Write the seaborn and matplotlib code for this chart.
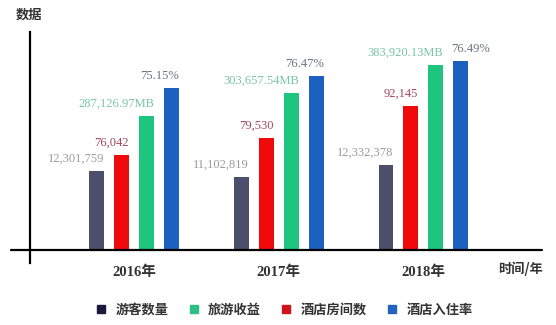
import matplotlib
matplotlib.use("Agg")
import matplotlib.pyplot as plt
from matplotlib.lines import Line2D
import seaborn as sns
import pandas as pd

# ---- data ----
years = ["2016年", "2017年", "2018年"]
series = ["游客数量", "旅游收益", "酒店房间数", "酒店入住率"]
bar_order = ["游客数量", "酒店房间数", "旅游收益", "酒店入住率"]
# display heights of bars as drawn in the picture (schematic, mixed units)
h_visitors = [79, 73, 85]
h_rooms = [95, 112, 144]
h_income = [134, 157, 185]
h_occupancy = [162, 174, 189]
lab_visitors = ["12,301,759", "11,102,819", "12,332,378"]
lab_rooms = ["76,042", "79,530", "92,145"]
lab_income = ["287,126.97MB", "303,657.54MB", "383,920.13MB"]
lab_occupancy = ["75.15%", "76.47%", "76.49%"]

bar_colors = {"游客数量": "#4b4f6b", "酒店房间数": "#f00a0c",
              "旅游收益": "#1fc47e", "酒店入住率": "#1c60c0"}
label_colors = {"游客数量": "#9a9a9a", "酒店房间数": "#a4465a",
                "旅游收益": "#78c4aa", "酒店入住率": "#6c7282"}
legend_colors = {"游客数量": "#1b1a3c", "旅游收益": "#2cbf86",
                 "酒店房间数": "#d0121b", "酒店入住率": "#2262c0"}

heights = {"游客数量": h_visitors, "酒店房间数": h_rooms,
           "旅游收益": h_income, "酒店入住率": h_occupancy}
labels = {"游客数量": lab_visitors, "酒店房间数": lab_rooms,
          "旅游收益": lab_income, "酒店入住率": lab_occupancy}

rows = []
for s in bar_order:
    for y, h in zip(years, heights[s]):
        rows.append({"year": y, "series": s, "height": h})
df = pd.DataFrame(rows)

sns.set_theme(style="white")
plt.rcParams["font.family"] = ["Liberation Serif", "Noto Sans CJK SC", "DejaVu Sans"]

W, H = 556, 325
fig = plt.figure(figsize=(W / 100, H / 100), dpi=100)
fig.patch.set_facecolor("white")
ax_left, ax_right, ax_top, ax_bot = 30, 545, 32, 263
ax = fig.add_axes([ax_left / W, 1 - ax_bot / H, (ax_right - ax_left) / W, (ax_bot - ax_top) / H])
ax.set_facecolor("white")

sns.barplot(data=df, x="year", y="height", hue="series", hue_order=bar_order,
            palette=bar_colors, width=0.69, gap=0.4, legend=False, ax=ax,
            saturation=1, edgecolor="none")

ax.set_ylim(-13, 218)
ax.set_xlim(-0.719, 2.84)

# value labels
for s, cont in zip(bar_order, ax.containers):
    for j, bar in enumerate(cont):
        top = bar.get_height()
        if s == "酒店入住率" and j == 2:
            xx, ha = bar.get_x() - 2 / 144.7, "left"
        else:
            xx, ha = bar.get_x() + bar.get_width(), "right"
        ax.text(xx, top + 12, labels[s][j], ha=ha, va="center", fontsize=9,
                color=label_colors[s], family=["Liberation Serif", "DejaVu Serif"])

# axes styling
for sp in ["top", "right", "bottom"]:
    ax.spines[sp].set_visible(False)
ax.spines["left"].set_color("black")
ax.spines["left"].set_linewidth(1.6)
ax.axhline(0, xmin=(11 - ax_left) / (ax_right - ax_left), xmax=(542 - ax_left) / (ax_right - ax_left),
           color="black", lw=1.6, clip_on=False)
ax.set_yticks([])
ax.set_xlabel("")
ax.set_ylabel("")
ax.tick_params(axis="x", length=0, pad=2)
for t in ax.get_xticklabels():
    t.set_fontsize(10.5)
    t.set_fontweight("bold")
    t.set_color("#333333")
    t.set_family(["Liberation Serif", "Noto Sans CJK SC"])

fig.text(29 / W, 1 - 15 / H, "数据", ha="center", va="center", fontsize=9.5,
         fontweight="bold", color="#333333", family=["Noto Sans CJK SC"])
fig.text(521 / W, 1 - 269 / H, "时间/年", ha="center", va="center", fontsize=9.5,
         fontweight="bold", color="#333333", family=["Noto Sans CJK SC"])

handles = [Line2D([], [], marker="s", linestyle="none", markersize=5.5,
                  color=legend_colors[s]) for s in series]
leg = fig.legend(handles, series, loc="center", bbox_to_anchor=(285 / W, 1 - 310 / H),
                 ncol=4, frameon=False, handlelength=0.6, handletextpad=0.8,
                 columnspacing=1.6, prop={"family": "Noto Sans CJK SC", "size": 9.5,
                                          "weight": "bold"})
for t in leg.get_texts():
    t.set_color("#333333")

fig.savefig("out.png", dpi=100, facecolor="white")
